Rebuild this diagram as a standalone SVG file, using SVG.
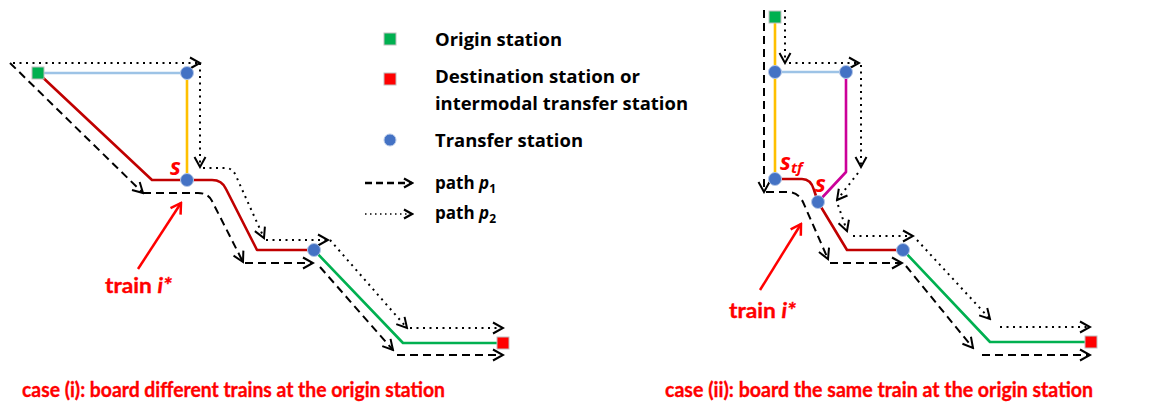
<svg xmlns="http://www.w3.org/2000/svg" width="1153" height="407" viewBox="0 0 1153 407">
  <style>
    text { font-family: "Open Sans", "Liberation Sans", sans-serif; font-weight: bold; }
    .lbl { font-size: 17px; fill: #000; }
    .red { fill: #FF0000; }
    .cap { font-family: Lato, "Open Sans", sans-serif; font-size: 20.5px; fill: #FF0000; stroke: #FF0000; stroke-width: 0.35; }
    .trn { font-family: Lato, "Open Sans", sans-serif; font-size: 20.5px; fill: #FF0000; stroke: #FF0000; stroke-width: 0.35; }
    .it { font-style: italic; }
    .line { fill: none; stroke-width: 2.6; stroke-linejoin: round; }
    .lb { stroke: #9DC3E6; }
    .yl { stroke: #FFC000; }
    .rd { stroke: #C00000; }
    .gn { stroke: #00B050; }
    .mg { stroke: #CC0099; }
    .dash { fill: none; stroke: #000; stroke-width: 2; stroke-dasharray: 8 5; marker-end: url(#chev); }
    .dot { fill: none; stroke: #000; stroke-width: 2; stroke-dasharray: 2 4.5; marker-end: url(#chev); }
    .stn { fill: #4472C4; stroke: #B4C7E7; stroke-width: 1; }
    .org { fill: #00B050; stroke: #BFBFBF; stroke-width: 1; }
    .dst { fill: #FF0000; stroke: #BFBFBF; stroke-width: 1; }
    .ptr { fill: none; stroke: #FF0000; stroke-width: 2.5; marker-end: url(#redchev); }
  </style>
  <defs>
    <marker id="chev" viewBox="-13 -8 15 16" refX="0" refY="0" markerWidth="15" markerHeight="16" markerUnits="userSpaceOnUse" orient="auto">
      <path d="M-10,-5.5 L0,0 L-10,5.5" fill="none" stroke="#000" stroke-width="2"/>
    </marker>
    <marker id="chevs" viewBox="-11 -7 13 14" refX="0" refY="0" markerWidth="13" markerHeight="14" markerUnits="userSpaceOnUse" orient="auto">
      <path d="M-8,-4.5 L0,0 L-8,4.5" fill="none" stroke="#000" stroke-width="2.2"/>
    </marker>
    <marker id="redchev" viewBox="-13 -8 15 16" refX="0" refY="0" markerWidth="15" markerHeight="16" markerUnits="userSpaceOnUse" orient="auto">
      <path d="M-10,-6 L0,0 L-10,6" fill="none" stroke="#FF0000" stroke-width="2.5"/>
    </marker>
  </defs>

  <!-- legend -->
  <g id="legend">
    <rect class="org" x="384" y="33" width="12" height="12"/>
    <text class="lbl" x="435" y="46" textLength="127" lengthAdjust="spacingAndGlyphs">Origin station</text>
    <rect class="dst" x="384" y="73" width="12" height="12"/>
    <text class="lbl" x="435" y="83" textLength="205" lengthAdjust="spacingAndGlyphs">Destination station or</text>
    <text class="lbl" x="435" y="110" textLength="253" lengthAdjust="spacingAndGlyphs">intermodal transfer station</text>
    <circle class="stn" cx="390" cy="140" r="6"/>
    <text class="lbl" x="435" y="147" textLength="148" lengthAdjust="spacingAndGlyphs">Transfer station</text>
    <path d="M365,183 L412,183" fill="none" stroke="#000" stroke-width="2.5" stroke-dasharray="7 4" marker-end="url(#chevs)"/>
    <text class="lbl" x="435" y="189">path <tspan class="it">p</tspan><tspan font-size="12" dy="4">1</tspan></text>
    <path d="M365,214 L412,214" fill="none" stroke="#000" stroke-width="1.5" stroke-dasharray="1.5 3.5" marker-end="url(#chevs)"/>
    <text class="lbl" x="435" y="219">path <tspan class="it">p</tspan><tspan font-size="12" dy="4">2</tspan></text>
  </g>

  <!-- case (i): lines -->
  <g id="lines-i">
    <path class="line lb" d="M38,73 L187,73"/>
    <path class="line yl" d="M187,73 L187,180"/>
    <path class="line rd" d="M38,73 L152,180 L212,180 Q222,180 226,189 L257,250 L314,250"/>
    <path class="line gn" d="M314,250 L403,343 L503,343"/>
  </g>

  <!-- case (i): connectors (paths p1, p2) -->
  <g id="connectors-i">
    <path class="dash" d="M10,63 L143,193"/>
    <path class="dash" d="M143,193 L198,193 Q208,193 212,201 L243,262"/>
    <path class="dash" d="M245,263 L313,263"/>
    <path class="dash" d="M320,267 L393,350"/>
    <path class="dash" d="M397,355 L503,355"/>
    <path class="dot" d="M13,63 L200,63"/>
    <path class="dot" d="M200,63 L200,167"/>
    <path class="dot" d="M203,168 L225,168 Q233,168 236,176 L264,238"/>
    <path class="dot" d="M266,240 L328,240"/>
    <path class="dot" d="M330,240 L407,328"/>
    <path class="dot" d="M410,328 L503,328"/>
    <path class="ptr" d="M138,269 L181,203"/>
  </g>

  <!-- case (i): stations -->
  <g id="origin-i"><rect class="org" x="32" y="67" width="12" height="12"/></g>
  <g id="transfer-i-1"><circle class="stn" cx="187" cy="73" r="6.5"/></g>
  <g id="transfer-i-s"><circle class="stn" cx="187" cy="180" r="6.5"/></g>
  <g id="transfer-i-2"><circle class="stn" cx="314" cy="250" r="6.5"/></g>
  <g id="dest-i"><rect class="dst" x="497" y="337" width="12" height="12"/></g>

  <g id="labels-i">
    <text class="red it" x="170" y="175" font-size="23">s</text>
    <text class="trn" x="105" y="293" textLength="67" lengthAdjust="spacingAndGlyphs">train <tspan class="it">i*</tspan></text>
    <text class="cap" x="22" y="397" textLength="423" lengthAdjust="spacingAndGlyphs">case (i): board different trains at the origin station</text>
  </g>

  <!-- case (ii): lines -->
  <g id="lines-ii">
    <path class="line yl" d="M775,17 L775,179"/>
    <path class="line lb" d="M775,72 L846,72"/>
    <path class="line mg" d="M846,72 L846,172 L818,202"/>
    <path class="line rd" d="M775,179 L802,179 Q811,179 814,190 L818,202 L847,250 L903,250"/>
    <path class="line gn" d="M903,250 L990,342 L1091,342"/>
  </g>

  <!-- case (ii): connectors (paths p1, p2) -->
  <g id="connectors-ii">
    <path class="dash" d="M764,10 L764,192"/>
    <path class="dash" d="M766,192 L788,192 Q798,192 803,202 L828,259"/>
    <path class="dash" d="M830,263 L902,263"/>
    <path class="dash" d="M906,266 L973,348"/>
    <path class="dash" d="M982,355 L1090,355"/>
    <path class="dot" d="M785,10 L785,63"/>
    <path class="dot" d="M789,63 L859,63"/>
    <path class="dot" d="M861,65 L861,167"/>
    <path class="dot" d="M858,173 L837,200"/>
    <path class="dot" d="M838,205 L847,231"/>
    <path class="dot" d="M853,236 L913,236"/>
    <path class="dot" d="M917,240 L990,319"/>
    <path class="dot" d="M1000,327 L1090,327"/>
    <path class="ptr" d="M760,290 L801,224"/>
  </g>

  <!-- case (ii): stations -->
  <g id="origin-ii"><rect class="org" x="769" y="11" width="12" height="12"/></g>
  <g id="transfer-ii-1"><circle class="stn" cx="775" cy="72" r="6.5"/></g>
  <g id="transfer-ii-2"><circle class="stn" cx="846" cy="72" r="6.5"/></g>
  <g id="transfer-ii-stf"><circle class="stn" cx="775" cy="179" r="6.5"/></g>
  <g id="transfer-ii-s"><circle class="stn" cx="818" cy="202" r="6.5"/></g>
  <g id="transfer-ii-3"><circle class="stn" cx="903" cy="250" r="6.5"/></g>
  <g id="dest-ii"><rect class="dst" x="1085" y="336" width="12" height="12"/></g>

  <g id="labels-ii">
    <text class="red it" x="780" y="170" font-size="23">s<tspan font-size="15" dy="3">tf</tspan></text>
    <text class="red it" x="815" y="192" font-size="23">s</text>
    <text class="trn" x="729" y="318" textLength="67" lengthAdjust="spacingAndGlyphs">train <tspan class="it">i*</tspan></text>
    <text class="cap" x="665" y="397" textLength="428" lengthAdjust="spacingAndGlyphs">case (ii): board the same train at the origin station</text>
  </g>
</svg>
